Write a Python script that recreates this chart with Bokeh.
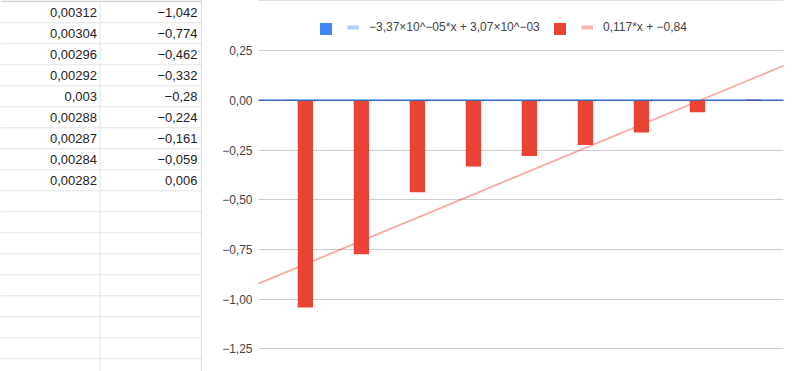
from bokeh.plotting import figure
from bokeh.layouts import row
from bokeh.models import (Range1d, FixedTicker, CustomJSTickFormatter, Span,
                          Legend, LegendItem)
from bokeh.embed import file_html
from bokeh.resources import INLINE
from bokeh.core.properties import value

# ---------------- data ----------------
row_index = [0, 1, 2, 3, 4, 5, 6, 7, 8]
blue_vals = [0.00312, 0.00304, 0.00296, 0.00292, 0.003, 0.00288, 0.00287, 0.00284, 0.00282]
red_vals = [-1.042, -0.774, -0.462, -0.332, -0.28, -0.224, -0.161, -0.059, 0.006]
blue_trend = [-3.37e-05, 3.07e-03]   # slope, intercept
red_trend = [0.117, -0.84]
blue_label = "−3,37×10^−05*x + 3,07×10^−03"
red_label = "0,117*x + −0,84"
y_ticks = [-1.25, -1.0, -0.75, -0.5, -0.25, 0.0, 0.25]

# ---------------- styling ----------------
FONT = "Liberation Sans"
W, H = 800, 371
TABLE_W = 202
CHART_W = W - TABLE_W
BLUE = "#4285f4"
RED = "#ea4335"
GRID = "#e2e3e3"


def sheet_fmt(v):
    s = str(v).replace(".", ",")
    return s.replace("-", "−")


# ---------------- table (spreadsheet cells) ----------------
t = figure(width=TABLE_W, height=H, x_range=Range1d(0, TABLE_W), y_range=Range1d(H, 0),
           output_backend="svg", toolbar_location=None, min_border=0,
           x_axis_type=None, y_axis_type=None)
t.outline_line_color = None
t.background_fill_color = "white"
t.border_fill_color = "white"

row_h = 21.0
first_line = 1.3
line_ys = [first_line + row_h * k for k in range(18)]
t.segment(x0=[0] * len(line_ys), x1=[201] * len(line_ys), y0=line_ys, y1=line_ys,
          line_color=GRID, line_width=1)
t.segment(x0=[99.5], x1=[99.5], y0=[0], y1=[H], line_color=GRID, line_width=1)
t.segment(x0=[201.5], x1=[201.5], y0=[1], y1=[H], line_color="#b5b5b5", line_width=1)
t.segment(x0=[0], x1=[TABLE_W], y0=[0.5], y1=[0.5], line_color="#c0c0c0", line_width=1)

text_ys = [first_line + row_h * (i + 0.5) for i in row_index]
t.text(x=[96.5] * len(row_index), y=text_ys, text=[sheet_fmt(v) for v in blue_vals],
       text_align="right", text_baseline="middle", text_font=value(FONT),
       text_font_size="13px", text_color="#222222")
t.text(x=[197] * len(row_index), y=text_ys, text=[sheet_fmt(v) for v in red_vals],
       text_align="right", text_baseline="middle", text_font=value(FONT),
       text_font_size="13px", text_color="#222222")

# ---------------- chart ----------------
x_start, x_end = -0.70, 8.673
y_start, y_end = -1.3646, 0.5035
p = figure(width=CHART_W, height=H, x_range=Range1d(x_start, x_end),
           y_range=Range1d(y_start, y_end), output_backend="svg",
           toolbar_location=None, min_border_left=56, min_border_right=17,
           min_border_top=0, min_border_bottom=0, x_axis_type=None)
p.outline_line_color = None
p.background_fill_color = "white"
p.border_fill_color = "white"

p.yaxis.ticker = FixedTicker(ticks=y_ticks)
p.yaxis.formatter = CustomJSTickFormatter(
    code="return (tick < 0 ? '\u2212' : '') + Math.abs(tick).toFixed(2).replace('.', ',');")
p.yaxis.axis_line_color = None
p.yaxis.major_tick_line_color = None
p.yaxis.minor_tick_line_color = None
p.yaxis.major_tick_out = 0
p.yaxis.major_label_standoff = 6
p.yaxis.major_label_text_font = FONT
p.yaxis.major_label_text_font_size = "12px"
p.yaxis.major_label_text_color = "#444444"
p.ygrid.ticker = FixedTicker(ticks=y_ticks)
p.ygrid.grid_line_color = "#cccccc"

# chart frame border (top)
p.add_layout(Span(location=y_end, dimension="width", line_color="#c0c0c0", line_width=1))

bar_w = 0.273
blue_bars = p.vbar(x=[i - bar_w / 2 for i in row_index], top=blue_vals, bottom=0,
                   width=bar_w, fill_color=BLUE, line_color=None)
red_bars = p.vbar(x=[i + bar_w / 2 for i in row_index], top=red_vals, bottom=0,
                  width=bar_w, fill_color=RED, line_color=None)
p.add_layout(Span(location=0, dimension="width", line_color="#333333", line_width=1))
blue_xy = dict(x=[x_start, x_end],
               y=[blue_trend[0] * x_start + blue_trend[1], blue_trend[0] * x_end + blue_trend[1]])
red_xy = dict(x=[x_start, x_end],
              y=[red_trend[0] * x_start + red_trend[1], red_trend[0] * x_end + red_trend[1]])
blue_line = p.line(line_color=BLUE, line_alpha=0.6, line_width=2, level="overlay", **blue_xy)
red_line = p.line(line_color=RED, line_alpha=0.45, line_width=1.8, level="overlay", **red_xy)

# hidden twins of the trendlines, used only for the thicker legend swatches
blue_key = p.line(line_color=BLUE, line_alpha=0.4, line_width=4, visible=False, **blue_xy)
red_key = p.line(line_color=RED, line_alpha=0.4, line_width=4, visible=False, **red_xy)

# legend: four single-item legends so each piece sits where the original has it
legend_common = dict(orientation="horizontal", label_standoff=10, spacing=0,
                     padding=0, margin=0, border_line_color=None,
                     background_fill_alpha=0, inactive_fill_alpha=0,
                     label_text_font=FONT, label_text_font_size="12px",
                     label_text_color="#444444", label_height=12, label_width=0)
for rend, lab, lx, ly, g in [(blue_bars, "", 59.5, 335.5, 15),
                             (blue_key, blue_label, 89, 337, 12),
                             (red_bars, "", 293.5, 335.5, 15),
                             (red_key, red_label, 323, 337, 12)]:
    lg = Legend(items=[LegendItem(label=lab, renderers=[rend])],
                location=(lx, ly), glyph_width=g, glyph_height=g, **legend_common)
    p.add_layout(lg)

layout = row(t, p)
open("out.html", "w").write(file_html(layout, INLINE))
